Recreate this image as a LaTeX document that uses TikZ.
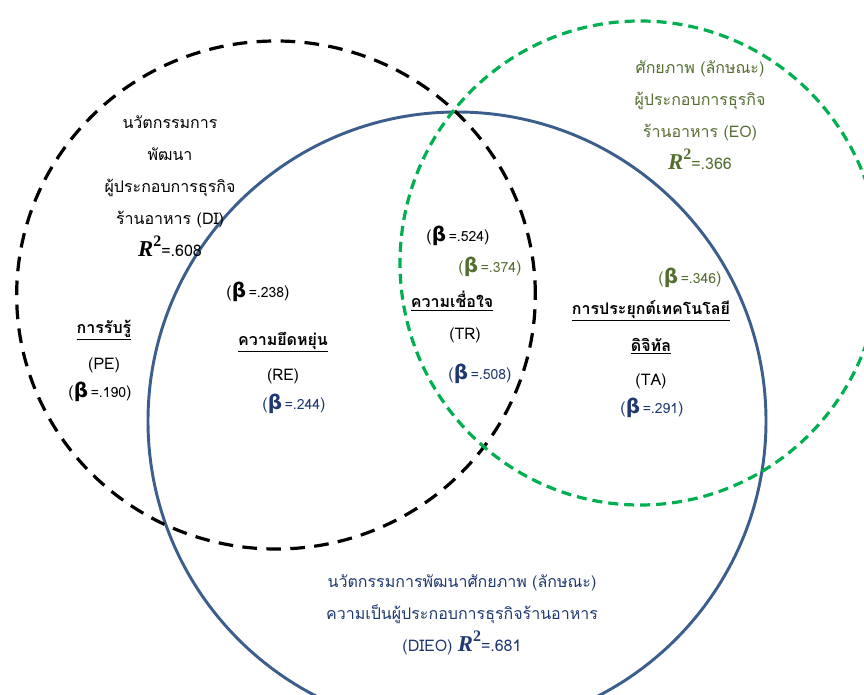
\documentclass[tikz,border=0pt]{standalone}
\usepackage{fontspec}
\setmainfont[Script=Thai]{Loma}
\newfontfamily\symfont{DejaVu Sans}
\newfontfamily\rfont{Liberation Serif}
\definecolor{dieoline}{RGB}{59,94,140}
\definecolor{dieotext}{RGB}{31,56,112}
\definecolor{eoline}{RGB}{0,176,80}
\definecolor{eotext}{RGB}{84,110,48}
% path coefficient: (β =.xxx)
\newcommand\betaval[1]{({\symfont\bfseries\fontsize{15}{15}\selectfont β}\,{\fontsize{10.5}{12}\selectfont=.#1})}
% coefficient of determination: R²=.xxx
\newcommand\rsqval[1]{{\rfont\bfseries\fontsize{17}{17}\selectfont\textit{R}\raisebox{0.45em}{\fontsize{12}{12}\selectfont 2}}=.#1}
\begin{document}
\begin{tikzpicture}[x=0.75pt,y=-0.75pt,
  txt/.style={inner sep=1pt,font=\fontsize{12}{14}\selectfont},
  head/.style={txt,font=\fontsize{12}{14}\selectfont\bfseries},
  blk/.style={align=center,inner sep=1pt,font=\fontsize{12}{24}\selectfont},
  dashring/.style={line width=2.4pt,dash pattern=on 11pt off 7pt},
  greenring/.style={line width=2.4pt,color=eoline,dash pattern=on 7.5pt off 4.5pt},
  bluering/.style={line width=2.2pt,color=dieoline}]
\useasboundingbox (0,0) rectangle (864,695);
% the three construct rings
\coordinate (cdi) at (276,295);
\coordinate (cdieo) at (457,421);
\coordinate (ceo) at (640,263);
\draw[bluering] (cdieo) ellipse [x radius=231.75pt, y radius=231.75pt];
\draw[dashring] (cdi) ellipse [x radius=194.5pt, y radius=190.5pt];
\draw[greenring] (ceo) ellipse [x radius=180pt, y radius=181.5pt];
% ring titles
\node[blk] (di) at (170,186) {นวัตกรรมการ\\พัฒนา\\ผู้ประกอบการธุรกิจ\\ร้านอาหาร (DI)\\\rsqval{608}};
\node[blk,text=eotext] (eo) at (700,115) {ศักยภาพ (ลักษณะ)\\ผู้ประกอบการธุรกิจ\\ร้านอาหาร (EO)\\\rsqval{366}};
\node[blk,text=dieotext] (dieo) at (462,615) {นวัตกรรมการพัฒนาศักยภาพ (ลักษณะ)\\ความเป็นผู้ประกอบการธุรกิจร้านอาหาร\\(DIEO) \rsqval{681}};
% perception
\node[head] (pe) at (104,330) {\underline{การรับรู้}};
\node[txt] (pecode) at (104,365) {(PE)};
\node[txt] (pebeta) at (100,392) {\betaval{190}};
% resilience
\node[txt] (rebeta1) at (258,292) {\betaval{238}};
\node[head] (re) at (283,342) {\underline{ความยึดหยุ่น}};
\node[txt] (recode) at (283,376) {(RE)};
\node[txt,text=dieotext] (rebeta2) at (294,404) {\betaval{244}};
% trust
\node[txt] (trbeta1) at (458,236) {\betaval{524}};
\node[txt,text=eotext] (trbeta2) at (490,267) {\betaval{374}};
\node[head] (tr) at (452,301) {\underline{ความเชื่อใจ}};
\node[txt] (trcode) at (465,335) {(TR)};
\node[txt,text=dieotext] (trbeta3) at (480,374) {\betaval{508}};
% technology adoption
\node[txt,text=eotext] (tabeta1) at (690,278) {\betaval{346}};
\node[head] (ta) at (651,311) {\underline{การประยุกต์เทคโนโลยี}};
\node[head] (ta2) at (651,346) {\underline{ดิจิทัล}};
\node[txt] (tacode) at (651,381) {(TA)};
\node[txt,text=dieotext] (tabeta2) at (652,408) {\betaval{291}};
\end{tikzpicture}
\end{document}
